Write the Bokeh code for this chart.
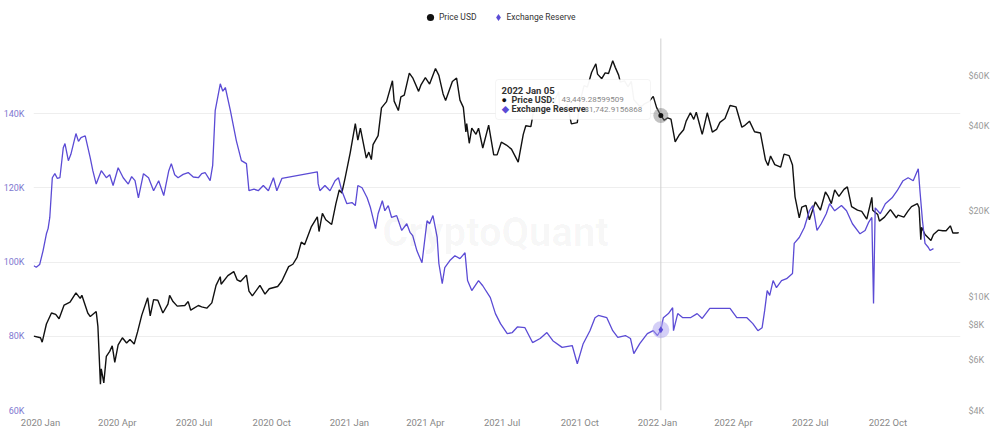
import pandas as pd
from bokeh.plotting import figure
from bokeh.models import (Range1d, LogAxis, LogScale, FixedTicker, MonthsTicker,
                          DatetimeTickFormatter, BoxAnnotation, Label, Legend,
                          LegendItem, ColumnDataSource)
from bokeh.embed import file_html
from bokeh.resources import INLINE

# ---------------- data ----------------
price_dates = [
    "2019-12-24", "2020-01-01", "2020-01-03", "2020-01-08", "2020-01-14", "2020-01-19", "2020-01-23",
    "2020-01-29", "2020-02-05", "2020-02-12", "2020-02-17", "2020-02-19", "2020-02-26", "2020-02-29",
    "2020-03-07", "2020-03-09", "2020-03-12", "2020-03-13", "2020-03-16", "2020-03-19", "2020-03-23",
    "2020-03-26", "2020-03-29", "2020-04-02", "2020-04-07", "2020-04-12", "2020-04-16", "2020-04-21",
    "2020-04-25", "2020-04-30", "2020-05-07", "2020-05-10", "2020-05-14", "2020-05-19", "2020-05-25",
    "2020-05-31", "2020-06-02", "2020-06-06", "2020-06-11", "2020-06-20", "2020-06-24", "2020-06-27",
    "2020-07-06", "2020-07-10", "2020-07-16", "2020-07-22", "2020-07-27", "2020-08-01", "2020-08-02",
    "2020-08-10", "2020-08-17", "2020-08-21", "2020-08-25", "2020-09-01", "2020-09-04", "2020-09-08",
    "2020-09-17", "2020-09-23", "2020-09-28", "2020-10-08", "2020-10-13", "2020-10-21", "2020-10-26",
    "2020-10-31", "2020-11-05", "2020-11-09", "2020-11-17", "2020-11-24", "2020-11-26", "2020-11-30",
    "2020-12-04", "2020-12-11", "2020-12-16", "2020-12-20", "2020-12-23", "2020-12-27", "2021-01-02",
    "2021-01-08", "2021-01-11", "2021-01-14", "2021-01-21", "2021-01-24", "2021-01-27", "2021-01-29",
    "2021-02-04", "2021-02-08", "2021-02-14", "2021-02-21", "2021-02-23", "2021-02-28", "2021-03-03",
    "2021-03-07", "2021-03-13", "2021-03-17", "2021-03-24", "2021-03-27", "2021-04-01", "2021-04-06",
    "2021-04-13", "2021-04-17", "2021-04-22", "2021-04-25", "2021-05-03", "2021-05-08", "2021-05-12",
    "2021-05-16", "2021-05-19", "2021-05-20", "2021-05-23", "2021-05-26", "2021-05-31", "2021-06-03",
    "2021-06-08", "2021-06-15", "2021-06-21", "2021-06-25", "2021-06-30", "2021-07-06", "2021-07-12",
    "2021-07-20", "2021-07-26", "2021-07-29", "2021-08-04", "2021-08-07", "2021-08-14", "2021-08-18",
    "2021-08-22", "2021-08-27", "2021-09-01", "2021-09-06", "2021-09-07", "2021-09-13", "2021-09-16",
    "2021-09-21", "2021-09-28", "2021-10-01", "2021-10-06", "2021-10-10", "2021-10-15", "2021-10-20",
    "2021-10-22", "2021-10-27", "2021-10-31", "2021-11-04", "2021-11-09", "2021-11-12", "2021-11-16",
    "2021-11-18", "2021-11-23", "2021-11-27", "2021-12-01", "2021-12-04", "2021-12-10", "2021-12-13",
    "2021-12-16", "2021-12-22", "2021-12-27", "2021-12-31", "2022-01-05", "2022-01-09", "2022-01-13",
    "2022-01-17", "2022-01-22", "2022-01-27", "2022-02-01", "2022-02-04", "2022-02-09", "2022-02-13",
    "2022-02-16", "2022-02-23", "2022-02-24", "2022-03-01", "2022-03-07", "2022-03-12", "2022-03-16",
    "2022-03-22", "2022-03-28", "2022-04-04", "2022-04-11", "2022-04-14", "2022-04-20", "2022-04-26",
    "2022-05-03", "2022-05-09", "2022-05-12", "2022-05-15", "2022-05-20", "2022-05-27", "2022-05-31",
    "2022-06-06", "2022-06-10", "2022-06-13", "2022-06-18", "2022-06-21", "2022-06-26", "2022-06-30",
    "2022-07-07", "2022-07-13", "2022-07-19", "2022-07-22", "2022-07-26", "2022-07-30", "2022-08-04",
    "2022-08-10", "2022-08-14", "2022-08-19", "2022-08-26", "2022-08-31", "2022-09-06", "2022-09-12",
    "2022-09-13", "2022-09-19", "2022-09-21", "2022-09-27", "2022-10-04", "2022-10-11", "2022-10-13",
    "2022-10-20", "2022-10-25", "2022-10-29", "2022-11-05", "2022-11-07", "2022-11-09", "2022-11-10",
    "2022-11-14", "2022-11-21", "2022-11-24", "2022-11-30", "2022-12-05", "2022-12-09", "2022-12-14",
    "2022-12-17", "2022-12-22", "2022-12-24",
]
price_usd = [
    7300, 7200, 6950, 8050, 8800, 8700, 8400,
    9380, 9600, 10350, 9900, 10150, 8800, 8550,
    8900, 7900, 4950, 5600, 5000, 6200, 6450,
    6750, 5900, 6800, 7200, 6900, 7100, 6850,
    7550, 8650, 9950, 8600, 9800, 9750, 8800,
    9450, 10150, 9650, 9300, 9350, 9650, 9000,
    9350, 9250, 9150, 9550, 11000, 11800, 11100,
    11900, 12300, 11500, 11350, 11950, 10500, 10100,
    11000, 10250, 10700, 10900, 11400, 12800, 13050,
    13800, 15600, 15300, 17700, 19150, 17000, 19700,
    18700, 18000, 21300, 23800, 23200, 26300, 32200,
    40700, 35600, 39200, 30800, 32300, 30400, 34300,
    36900, 46200, 48600, 57500, 48800, 45200, 50500,
    51200, 61200, 58900, 52800, 55800, 59000, 56000,
    63500, 60100, 51700, 49000, 57200, 58800, 49200,
    46400, 38000, 40700, 34700, 39200, 37300, 39200,
    33400, 40200, 31600, 31600, 35000, 34200, 33100,
    29800, 37300, 40000, 39700, 44600, 47100, 44700,
    49300, 49000, 48800, 52700, 46900, 44900, 47700,
    40600, 41000, 48200, 55300, 54700, 61600, 66000,
    60700, 58500, 61300, 61000, 67600, 64100, 60200,
    56900, 57500, 54800, 57200, 49400, 47100, 46700,
    47600, 48600, 50700, 46300, 43449.28599509, 41800, 42600,
    42200, 35100, 37200, 38700, 41500, 44400, 42100,
    44600, 37300, 38300, 44400, 38000, 38800, 41100,
    42400, 47100, 46600, 39500, 40000, 41500, 38100,
    37700, 30300, 29000, 31300, 29200, 28600, 31800,
    31400, 29100, 22500, 19000, 20700, 21000, 18700,
    21600, 20200, 23400, 22700, 21300, 23800, 22600,
    23900, 24400, 20800, 20200, 20000, 18800, 22400,
    20200, 19500, 18500, 19100, 20300, 19000, 19400,
    19100, 20100, 20800, 21300, 20600, 15900, 17600,
    16600, 15800, 16600, 17200, 17100, 17100, 17800,
    16800, 16800, 16850,
]

reserve_dates = [
    "2019-12-24", "2019-12-27", "2019-12-31", "2020-01-04", "2020-01-08", "2020-01-10", "2020-01-12",
    "2020-01-15", "2020-01-18", "2020-01-21", "2020-01-24", "2020-01-28", "2020-01-30", "2020-02-03",
    "2020-02-06", "2020-02-12", "2020-02-15", "2020-02-18", "2020-02-23", "2020-02-29", "2020-03-03",
    "2020-03-07", "2020-03-13", "2020-03-19", "2020-03-23", "2020-03-27", "2020-04-02", "2020-04-08",
    "2020-04-14", "2020-04-18", "2020-04-22", "2020-04-26", "2020-05-02", "2020-05-08", "2020-05-14",
    "2020-05-20", "2020-05-26", "2020-06-01", "2020-06-04", "2020-06-08", "2020-06-12", "2020-06-18",
    "2020-06-24", "2020-06-30", "2020-07-06", "2020-07-10", "2020-07-14", "2020-07-20", "2020-07-23",
    "2020-07-26", "2020-08-01", "2020-08-04", "2020-08-07", "2020-08-13", "2020-08-20", "2020-08-26",
    "2020-09-01", "2020-09-04", "2020-09-10", "2020-09-15", "2020-09-21", "2020-09-27", "2020-10-03",
    "2020-10-07", "2020-10-13", "2020-11-24", "2020-11-25", "2020-11-27", "2020-12-03", "2020-12-09",
    "2020-12-15", "2020-12-19", "2020-12-23", "2020-12-29", "2021-01-04", "2021-01-08", "2021-01-11",
    "2021-01-16", "2021-01-22", "2021-01-26", "2021-02-01", "2021-02-04", "2021-02-09", "2021-02-12",
    "2021-02-16", "2021-02-20", "2021-02-26", "2021-03-04", "2021-03-10", "2021-03-14", "2021-03-17",
    "2021-03-22", "2021-03-28", "2021-04-03", "2021-04-06", "2021-04-10", "2021-04-15", "2021-04-17",
    "2021-04-21", "2021-04-24", "2021-04-30", "2021-05-06", "2021-05-12", "2021-05-18", "2021-05-21",
    "2021-05-26", "2021-06-03", "2021-06-08", "2021-06-17", "2021-06-23", "2021-06-29", "2021-07-07",
    "2021-07-13", "2021-07-19", "2021-07-28", "2021-08-06", "2021-08-15", "2021-08-23", "2021-08-30",
    "2021-09-10", "2021-09-22", "2021-09-28", "2021-10-05", "2021-10-13", "2021-10-19", "2021-10-23",
    "2021-11-02", "2021-11-09", "2021-11-15", "2021-11-24", "2021-11-30", "2021-12-04", "2021-12-11",
    "2021-12-20", "2021-12-27", "2022-01-01", "2022-01-05", "2022-01-08", "2022-01-14", "2022-01-19",
    "2022-01-20", "2022-01-25", "2022-01-31", "2022-02-09", "2022-02-17", "2022-02-23", "2022-03-04",
    "2022-03-16", "2022-03-28", "2022-04-05", "2022-04-17", "2022-04-24", "2022-04-30", "2022-05-05",
    "2022-05-08", "2022-05-11", "2022-05-14", "2022-05-18", "2022-05-22", "2022-05-28", "2022-06-03",
    "2022-06-10", "2022-06-12", "2022-06-18", "2022-06-24", "2022-06-30", "2022-07-04", "2022-07-09",
    "2022-07-14", "2022-07-20", "2022-07-24", "2022-07-30", "2022-08-07", "2022-08-13", "2022-08-20",
    "2022-08-29", "2022-09-04", "2022-09-08", "2022-09-12", "2022-09-14", "2022-09-16", "2022-09-22",
    "2022-09-28", "2022-10-06", "2022-10-12", "2022-10-19", "2022-10-25", "2022-10-31", "2022-11-06",
    "2022-11-08", "2022-11-11", "2022-11-14", "2022-11-18", "2022-11-20", "2022-11-24",
]
exchange_reserve = [
    99000, 98600, 99300, 103000, 107600, 109000, 112000,
    122700, 123800, 122500, 122700, 130800, 131900, 127300,
    129000, 134600, 132500, 133500, 134000, 128000, 124600,
    121000, 124600, 122700, 123500, 120600, 125400, 122700,
    121000, 123000, 121900, 117300, 123800, 122700, 119200,
    121900, 117900, 124600, 126500, 123500, 122700, 123600,
    124100, 122900, 122700, 123800, 124100, 121900, 126000,
    140800, 148000, 146000, 147000, 140800, 132700, 127300,
    126500, 119200, 119600, 119200, 120600, 119200, 122700,
    119200, 122500, 124300, 121100, 119200, 120600, 119200,
    121900, 122700, 119200, 115700, 116000, 115200, 120600,
    120000, 117300, 114600, 109000, 113000, 116500, 113800,
    115200, 112000, 112500, 108500, 110300, 107900, 107100,
    103000, 99800, 111100, 110300, 112500, 106600, 99600,
    94200, 98500, 100400, 101700, 100900, 102500, 95000,
    92300, 95000, 93600, 90400, 86100, 83400, 80700,
    81000, 82500, 82300, 78300, 79400, 81000, 78800,
    77000, 77500, 72600, 78000, 81500, 85000, 85600,
    85000, 81500, 79700, 80200, 79400, 75300, 78000,
    80700, 81500, 80200, 81742.9156868, 85000, 86100, 87700,
    81500, 86100, 85000, 85000, 86100, 84800, 87500,
    87500, 87500, 85000, 85000, 83400, 81500, 82300,
    86900, 92300, 91000, 95000, 93100, 95000, 95500,
    96900, 105000, 106600, 109300, 113800, 115200, 108500,
    110300, 113000, 115700, 113800, 115200, 113800, 110300,
    107600, 108500, 110600, 112000, 88800, 114600, 113000,
    115700, 117300, 119200, 121900, 122700, 121900, 125100,
    119200, 111100, 105000, 103900, 103100, 103600,
]

left_ticks = [60000, 80000, 100000, 120000, 140000]
left_tick_labels = ["60K", "80K", "100K", "120K", "140K"]
right_ticks = [4000, 6000, 8000, 10000, 20000, 40000, 60000]
right_tick_labels = ["$4K", "$6K", "$8K", "$10K", "$20K", "$40K", "$60K"]

series_names = ["Price USD", "Exchange Reserve"]
hover_date = "2022-01-05"
hover_label = "2022 Jan 05"
hover_price = 43449.28599509
hover_reserve = 81742.9156868

# ---------------- styling ----------------
PRICE_COLOR = "#111111"
RES_COLOR = "#5b4bd5"
FONT = "Roboto"

# frame placement (pixels in the 1000x434 canvas); the frame reaches the top
# edge so the legend (drawn inside the frame) is not clipped
FX0, FX1, FY0, FY1 = 33, 960, 0, 410
PLOT_TOP = 38          # visible top of the plotting area (crosshair top)
LEFT_PX_PER_UNIT = 297.0 / 80000.0     # 80K on the left axis spans 297 px
RIGHT_PX_PER_DECADE = 284.8


def sx(x):
    return x - FX0


def sy(y):
    return FY1 - y


day0 = pd.Timestamp("2020-01-01")
px_per_day = 0.844
x_start = day0 + pd.Timedelta(days=(FX0 - 40) / px_per_day)
x_end = day0 + pd.Timedelta(days=(FX1 - 40) / px_per_day)
left_top = 60000 + (FY1 - FY0) / LEFT_PX_PER_UNIT
right_top = 4000 * 10 ** ((FY1 - FY0) / RIGHT_PX_PER_DECADE)
left_visible_top = 60000 + (FY1 - PLOT_TOP) / LEFT_PX_PER_UNIT

p = figure(width=1000, height=434, x_axis_type="datetime", output_backend="svg",
           toolbar_location=None,
           x_range=Range1d(x_start, x_end), y_range=Range1d(60000, left_top),
           min_border_left=FX0, min_border_right=1000 - FX1,
           min_border_top=FY0, min_border_bottom=434 - FY1)
p.extra_y_ranges = {"price": Range1d(4000, right_top)}
p.extra_y_scales = {"price": LogScale()}
p.outline_line_color = None
p.background_fill_color = "white"
p.border_fill_color = "white"


def style_axis(ax, color, standoff, size="9px"):
    ax.axis_line_color = None
    ax.major_tick_line_color = None
    ax.minor_tick_line_color = None
    ax.major_tick_out = 0
    ax.major_tick_in = 0
    ax.minor_tick_out = 0
    ax.minor_tick_in = 0
    ax.major_label_standoff = standoff
    ax.major_label_text_font = FONT
    ax.major_label_text_font_size = size
    ax.major_label_text_color = color


# left axis
ya = p.yaxis[0]
ya.ticker = FixedTicker(ticks=left_ticks)
ya.major_label_overrides = dict(zip(left_ticks, left_tick_labels))
style_axis(ya, "#8078d0", 9)

p.ygrid[0].ticker = FixedTicker(ticks=left_ticks)
p.ygrid[0].grid_line_color = "#eeeeee"
p.xgrid.visible = False

# right log axis
ra = LogAxis(y_range_name="price")
ra.ticker = FixedTicker(ticks=right_ticks)
ra.major_label_overrides = dict(zip(right_ticks, right_tick_labels))
style_axis(ra, "#9a9a9a", 8)
p.add_layout(ra, "right")

# x axis
xa = p.xaxis[0]
xa.ticker = MonthsTicker(months=[0, 3, 6, 9])
xa.formatter = DatetimeTickFormatter(months="%Y %b", years="%Y %b", days="%Y %b")
style_axis(xa, "#888888", 6, size="9.5px")

# watermark
p.add_layout(Label(x=sx(495), y=sy(232), x_units="screen", y_units="screen",
                   text="CryptoQuant", text_align="center", text_baseline="middle",
                   text_font=FONT, text_font_size="40px", text_font_style="bold",
                   text_color="#000000", text_alpha=0.035))

# series
src_price = ColumnDataSource(dict(date=pd.to_datetime(price_dates), value=price_usd))
src_res = ColumnDataSource(dict(date=pd.to_datetime(reserve_dates), value=exchange_reserve))
p.line("date", "value", source=src_price, y_range_name="price",
       line_color=PRICE_COLOR, line_width=1.4)
p.line("date", "value", source=src_res, line_color=RES_COLOR, line_width=1.3)

# hover crosshair & markers (series symbols: circle / diamond)
hover_ts = pd.Timestamp(hover_date)
p.segment(x0=[hover_ts], y0=[60000], x1=[hover_ts], y1=[left_visible_top],
          line_color="#cfcfcf", line_width=1)
p.scatter([hover_ts], [hover_price], y_range_name="price", size=15,
          fill_color="#777777", fill_alpha=0.45, line_color=None)
mark_price = p.scatter([hover_ts], [hover_price], y_range_name="price", size=5,
                       marker="circle", fill_color=PRICE_COLOR, line_color=None)
p.scatter([hover_ts], [hover_reserve], size=17,
          fill_color="#a99ff0", fill_alpha=0.5, line_color=None)
mark_res = p.scatter([hover_ts], [hover_reserve], size=7, marker="diamond",
                     fill_color=RES_COLOR, line_color=None)

# tooltip
p.add_layout(BoxAnnotation(left=sx(495), right=sx(650), top=sy(79), bottom=sy(119),
                           left_units="screen", right_units="screen",
                           top_units="screen", bottom_units="screen",
                           fill_color="white", fill_alpha=0.96,
                           line_color="#dddddd", line_width=1, border_radius=3))


def tip(x, y, text, color="#333333", bold=True, size="9px"):
    p.add_layout(Label(x=sx(x), y=sy(y), x_units="screen", y_units="screen", text=text,
                       text_baseline="middle", text_font=FONT, text_font_size=size,
                       text_font_style="bold" if bold else "normal", text_color=color))


tip(501, 90, hover_label, size="9.5px")
tip(501, 99, "\u25CF", color=PRICE_COLOR)
tip(511, 99, series_names[0] + ":")
tip(561, 99, f"{hover_price:,.8f}", color="#888888", bold=False, size="8px")
tip(501, 108.5, "\u25C6", color=RES_COLOR)
tip(511, 108.5, series_names[1] + ":")
tip(584, 108.5, f"{hover_reserve:,.7f}", color="#888888", bold=False, size="8px")

# legend (drawn inside the frame, which extends up to the top edge)
legend = Legend(items=[LegendItem(label=series_names[0], renderers=[mark_price]),
                       LegendItem(label=series_names[1], renderers=[mark_res])],
                orientation="horizontal", location=(sx(421), sy(26)),
                padding=0, margin=0, spacing=12, label_standoff=0,
                glyph_width=18, glyph_height=18, label_height=18,
                border_line_color=None, background_fill_alpha=0,
                label_text_font=FONT, label_text_font_size="8.5px",
                label_text_color="#333333")
p.add_layout(legend)

open("out.html", "w").write(file_html(p, INLINE))
